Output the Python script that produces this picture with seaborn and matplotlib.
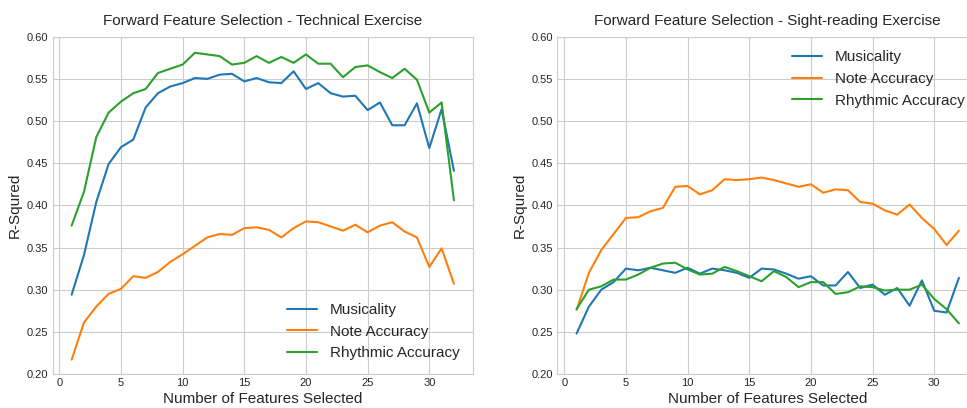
import numpy as np
import pandas as pd
import matplotlib
matplotlib.use("Agg")
import matplotlib.pyplot as plt
import seaborn as sns

# --- Data ---
n_features = list(range(1, 33))

tech_musicality = [0.294, 0.341, 0.404, 0.449, 0.469, 0.478, 0.516, 0.533, 0.541, 0.545,
                   0.551, 0.550, 0.555, 0.556, 0.547, 0.551, 0.546, 0.545, 0.559, 0.538,
                   0.545, 0.533, 0.529, 0.530, 0.513, 0.522, 0.495, 0.495, 0.521, 0.468,
                   0.514, 0.441]
tech_note = [0.217, 0.261, 0.280, 0.295, 0.301, 0.316, 0.314, 0.321, 0.333, 0.342,
             0.352, 0.362, 0.366, 0.365, 0.373, 0.374, 0.371, 0.362, 0.373, 0.381,
             0.380, 0.375, 0.370, 0.377, 0.368, 0.376, 0.380, 0.369, 0.362, 0.327,
             0.349, 0.307]
tech_rhythm = [0.376, 0.416, 0.481, 0.510, 0.523, 0.533, 0.538, 0.557, 0.562, 0.567,
               0.581, 0.579, 0.577, 0.567, 0.569, 0.577, 0.569, 0.576, 0.569, 0.579,
               0.568, 0.568, 0.552, 0.564, 0.566, 0.558, 0.551, 0.562, 0.549, 0.510,
               0.522, 0.406]

sight_musicality = [0.248, 0.280, 0.300, 0.309, 0.325, 0.323, 0.326, 0.323, 0.320, 0.326,
                    0.319, 0.325, 0.323, 0.320, 0.314, 0.325, 0.324, 0.319, 0.313, 0.316,
                    0.305, 0.305, 0.321, 0.302, 0.306, 0.294, 0.302, 0.281, 0.311, 0.275,
                    0.273, 0.314]
sight_note = [0.276, 0.320, 0.347, 0.366, 0.385, 0.386, 0.393, 0.397, 0.422, 0.423,
              0.413, 0.418, 0.431, 0.430, 0.431, 0.433, 0.430, 0.426, 0.422, 0.425,
              0.415, 0.419, 0.418, 0.404, 0.402, 0.394, 0.389, 0.401, 0.385, 0.372,
              0.353, 0.370]
sight_rhythm = [0.277, 0.300, 0.304, 0.312, 0.312, 0.318, 0.326, 0.331, 0.332, 0.324,
                0.318, 0.319, 0.327, 0.322, 0.316, 0.310, 0.322, 0.315, 0.303, 0.309,
                0.309, 0.295, 0.297, 0.304, 0.303, 0.299, 0.300, 0.300, 0.306, 0.289,
                0.277, 0.260]

series_names = ['Musicality', 'Note Accuracy', 'Rhythmic Accuracy']
colors = ['#1f77b4', '#ff7f0e', '#2ca02c']


def draw_panel(ax, values, title, legend_loc):
    for name, vals, color in zip(series_names, values, colors):
        sns.lineplot(x=n_features, y=vals, ax=ax, color=color, label=name, linewidth=1.5)

    ax.set_ylim(0.2, 0.6)
    ax.set_yticks(np.arange(0.2, 0.61, 0.05))
    ax.set_xticks([0, 5, 10, 15, 20, 25, 30])
    ax.set_title(title, fontsize=11, pad=8.5)
    ax.set_xlabel('Number of Features Selected', fontsize=11, labelpad=3)
    ax.set_ylabel('R-Squred', fontsize=11, labelpad=3.5)
    ax.tick_params(labelsize=8, length=0, pad=3)
    ax.legend(loc=legend_loc, fontsize=11, frameon=False)


sns.set_style('whitegrid')
plt.rcParams['font.family'] = ['Liberation Sans', 'DejaVu Sans']

fig = plt.figure(figsize=(9.67, 4.08), dpi=100)
ax1 = fig.add_axes([0.0543, 0.0833, 0.4349, 0.8267])
ax2 = fig.add_axes([0.5765, 0.0833, 0.4349, 0.8267])

draw_panel(ax1, [tech_musicality, tech_note, tech_rhythm],
           'Forward Feature Selection - Technical Exercise', 'lower right')
draw_panel(ax2, [sight_musicality, sight_note, sight_rhythm],
           'Forward Feature Selection - Sight-reading Exercise', 'upper right')

fig.savefig('out.png', dpi=100)
